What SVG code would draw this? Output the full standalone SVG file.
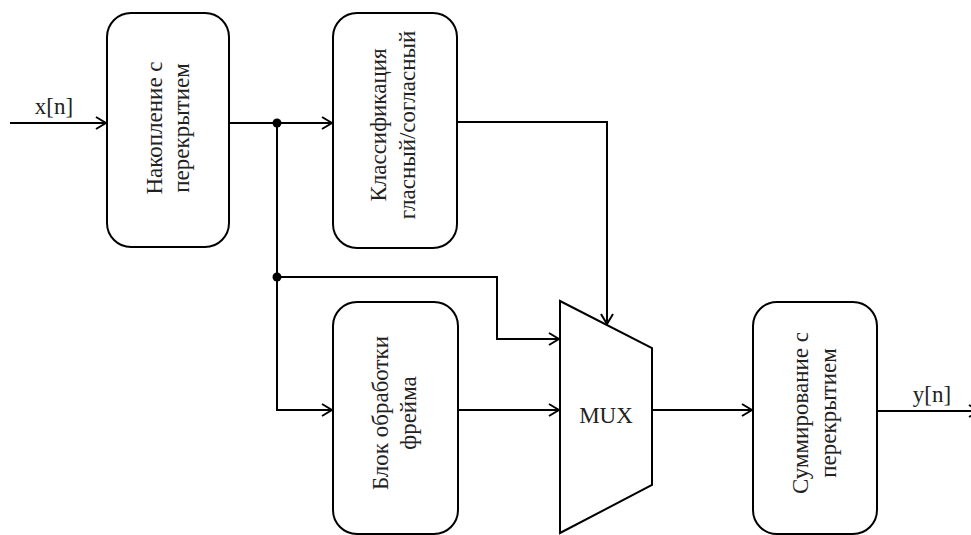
<svg xmlns="http://www.w3.org/2000/svg" width="971" height="535" viewBox="0 0 971 535">
<style>
.box{fill:#fff;stroke:#000;stroke-width:2}
.ln{fill:none;stroke:#000;stroke-width:2}
.t{font-family:"Times New Roman","Liberation Serif",Tinos,"Noto Serif","DejaVu Serif",serif;font-size:23px;fill:#222;text-anchor:middle}
</style>
<defs>
<marker id="arr" viewBox="0 0 12 14" refX="11" refY="7" markerWidth="12" markerHeight="14" markerUnits="userSpaceOnUse" orient="auto">
<path d="M1,1 L11,7 L1,13" fill="none" stroke="#000" stroke-width="2"/>
</marker>
</defs>
<rect width="971" height="535" fill="#fff"/>
<g id="connectors">
<path class="ln" d="M10,123 H106" marker-end="url(#arr)"/>
<path class="ln" d="M229,123 H332" marker-end="url(#arr)"/>
<path class="ln" d="M277,123 V410 H332" marker-end="url(#arr)"/>
<path class="ln" d="M277,277 H497 V339 H559" marker-end="url(#arr)"/>
<path class="ln" d="M457,122 H607 V324" marker-end="url(#arr)"/>
<path class="ln" d="M457,410 H559" marker-end="url(#arr)"/>
<path class="ln" d="M652,410 H752" marker-end="url(#arr)"/>
<path class="ln" d="M877,411 H979" marker-end="url(#arr)"/>
<circle cx="277" cy="123" r="4.5" fill="#000"/>
<circle cx="277" cy="277" r="4.5" fill="#000"/>
<text class="t" x="54" y="114">x[n]</text>
<text class="t" x="932" y="402">y[n]</text>
</g>
<g id="node-accum">
<rect class="box" x="107" y="13" width="122" height="234" rx="24"/>
<text class="t" transform="translate(168,128) rotate(-90)"><tspan x="0" y="-6">Накопление с</tspan><tspan x="0" y="21">перекрытием</tspan></text>
</g>
<g id="node-classify">
<rect class="box" x="333" y="13" width="124" height="235" rx="24"/>
<text class="t" transform="translate(395,125) rotate(-90)"><tspan x="0" y="-9">Классификация</tspan><tspan x="0" y="20">гласный/согласный</tspan></text>
</g>
<g id="node-frame">
<rect class="box" x="333" y="302" width="125" height="232" rx="24"/>
<text class="t" transform="translate(395,413) rotate(-90)"><tspan x="0" y="-7">Блок обработки</tspan><tspan x="0" y="21">фрейма</tspan></text>
</g>
<g id="node-mux">
<polygon class="box" points="560,301 652,348 652,485 560,533"/>
<text class="t" x="606" y="423">MUX</text>
</g>
<g id="node-sum">
<rect class="box" x="753" y="302" width="124" height="232" rx="24"/>
<text class="t" transform="translate(815,413) rotate(-90)"><tspan x="0" y="-7">Суммирование с</tspan><tspan x="0" y="21">перекрытием</tspan></text>
</g>
</svg>
